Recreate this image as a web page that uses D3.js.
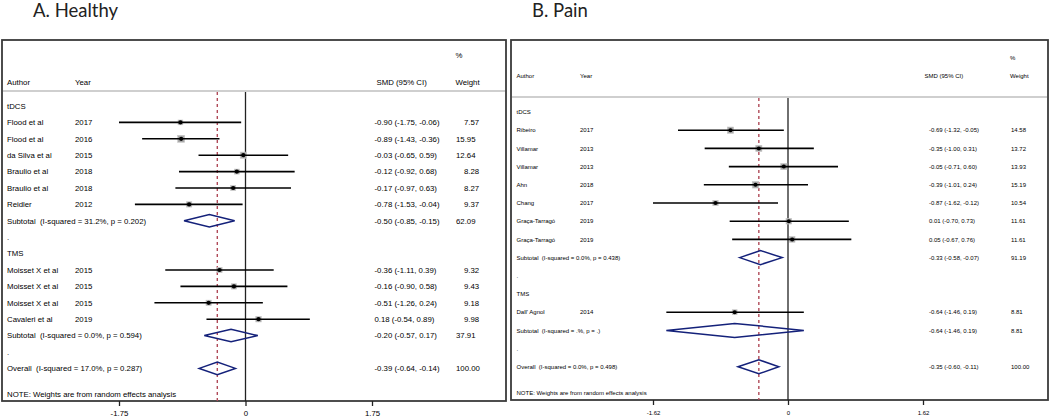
<!DOCTYPE html>
<html>
<head>
<meta charset="utf-8">
<script src="https://cdn.jsdelivr.net/npm/d3@7"></script>
<style>
  body { margin: 0; background: #fff; }
  svg { display: block; }
  text { font-family: "Liberation Sans", Arial, sans-serif; fill: #000; white-space: pre; }
  .title { font-family: Lato, "Open Sans", sans-serif; font-size: 18.5px; fill: #222; }
</style>
</head>
<body>
<svg id="chart" width="1050" height="419"></svg>
<script>
// ---- A. Healthy ----
const healthyGroups = ['tDCS', 'TMS'];
const healthyAuthor = ['Flood et al', 'Flood et al', 'da Silva et al', 'Braulio et al', 'Braulio et al', 'Reidler',
  'Moisset X et al', 'Moisset X et al', 'Moisset X et al', 'Cavaleri et al'];
const healthyYear = [2017, 2016, 2015, 2018, 2018, 2012, 2015, 2015, 2015, 2019];
const healthyGroup = [0, 0, 0, 0, 0, 0, 1, 1, 1, 1];
const healthyEst = [-0.90, -0.89, -0.03, -0.12, -0.17, -0.78, -0.36, -0.16, -0.51, 0.18];
const healthyLo = [-1.75, -1.43, -0.65, -0.92, -0.97, -1.53, -1.11, -0.90, -1.26, -0.54];
const healthyHi = [-0.06, -0.36, 0.59, 0.68, 0.63, -0.04, 0.39, 0.58, 0.24, 0.89];
const healthyWeight = [7.57, 15.95, 12.64, 8.28, 8.27, 9.37, 9.32, 9.43, 9.18, 9.98];
const healthySubLabel = ['Subtotal  (I-squared = 31.2%, p = 0.202)', 'Subtotal  (I-squared = 0.0%, p = 0.594)'];
const healthySubEst = [-0.50, -0.20];
const healthySubLo = [-0.85, -0.57];
const healthySubHi = [-0.15, 0.17];
const healthySubWeight = [62.09, 37.91];
const healthyOverall = { label: 'Overall  (I-squared = 17.0%, p = 0.287)', est: -0.39, lo: -0.64, hi: -0.14, w: 100.00 };
const healthyTicks = [-1.75, 0, 1.75];

// ---- B. Pain ----
const painGroups = ['tDCS', 'TMS'];
const painAuthor = ['Ribeiro', 'Villamar', 'Villamar', 'Ahn', 'Chang', 'Graça-Tarragó', 'Graça-Tarragó', "Dall' Agnol"];
const painYear = [2017, 2013, 2013, 2018, 2017, 2019, 2019, 2014];
const painGroup = [0, 0, 0, 0, 0, 0, 0, 1];
const painEst = [-0.69, -0.35, -0.05, -0.39, -0.87, 0.01, 0.05, -0.64];
const painLo = [-1.32, -1.00, -0.71, -1.01, -1.62, -0.70, -0.67, -1.46];
const painHi = [-0.05, 0.31, 0.60, 0.24, -0.12, 0.73, 0.76, 0.19];
const painWeight = [14.58, 13.72, 13.93, 15.19, 10.54, 11.61, 11.61, 8.81];
const painSubLabel = ['Subtotal  (I-squared = 0.0%, p = 0.438)', 'Subtotal  (I-squared = .%, p = .)'];
const painSubEst = [-0.33, -0.64];
const painSubLo = [-0.58, -1.46];
const painSubHi = [-0.07, 0.19];
const painSubWeight = [91.19, 8.81];
const painOverall = { label: 'Overall  (I-squared = 0.0%, p = 0.498)', est: -0.35, lo: -0.60, hi: -0.11, w: 100.00 };
const painTicks = [-1.62, 0, 1.62];

const svg = d3.select('#chart');
// plain hyphen minus, as in the Stata output
const f2 = d3.formatLocale({ decimal: '.', thousands: ',', grouping: [3], currency: ['', ''], minus: '-' }).format('.2f');

function buildRows(groups, author, year, group, est, lo, hi, weight, subLabel, subEst, subLo, subHi, subW, overall) {
  const rows = [];
  groups.forEach((g, gi) => {
    rows.push({ type: 'group', label: g });
    author.forEach((a, i) => {
      if (group[i] !== gi) return;
      rows.push({ type: 'study', label: a, year: year[i], est: est[i], lo: lo[i], hi: hi[i], w: weight[i] });
    });
    rows.push({ type: 'sub', label: subLabel[gi], est: subEst[gi], lo: subLo[gi], hi: subHi[gi], w: subW[gi] });
    rows.push({ type: 'blank', label: '.' });
  });
  rows.push(Object.assign({ type: 'sub' }, overall));
  return rows;
}

function drawPanel(cfg, rows, ticks, overallEst) {
  const g = svg.append('g');
  const x = d3.scaleLinear().domain([ticks[0], ticks[2]]).range(cfg.tickRange);
  const y = i => cfg.row0 + i * cfg.rowStep;
  const fs = cfg.fontSize;
  const base = fs * 0.35;

  g.append('text').attr('class', 'title')
    .attr('x', cfg.titleX).attr('y', 17).text(cfg.title);

  // frame
  g.append('rect')
    .attr('x', cfg.left).attr('y', cfg.top)
    .attr('width', cfg.right - cfg.left).attr('height', cfg.bottom - cfg.top)
    .attr('fill', 'none').attr('stroke', '#3a3a3a').attr('stroke-width', 1.8);

  g.append('line')
    .attr('x1', cfg.left + 1).attr('x2', cfg.right - 1)
    .attr('y1', cfg.sepY).attr('y2', cfg.sepY)
    .attr('stroke', '#cfcfcf').attr('stroke-width', 2);

  // header
  const hdr = g.append('g').style('font-size', fs + 'px');
  hdr.append('text').attr('x', cfg.colAuthor).attr('y', cfg.headY + base).text('Author');
  hdr.append('text').attr('x', cfg.colYear).attr('y', cfg.headY + base).text('Year');
  hdr.append('text').attr('x', cfg.colSmdHead).attr('y', cfg.headY + base).text('SMD (95% CI)');
  hdr.append('text').attr('x', cfg.colWeightHead).attr('y', cfg.headY + base).text('Weight');
  hdr.append('text').attr('x', cfg.colWeightHead).attr('y', cfg.pctY + base).text('%');

  // null line
  g.append('line')
    .attr('x1', x(0)).attr('x2', x(0))
    .attr('y1', cfg.sepY + 1).attr('y2', cfg.bottom)
    .attr('stroke', '#222').attr('stroke-width', 1.3);

  // overall effect line
  g.append('line')
    .attr('x1', x(overallEst)).attr('x2', x(overallEst))
    .attr('y1', cfg.sepY + 1).attr('y2', cfg.bottom)
    .attr('stroke', '#b04a58').attr('stroke-width', 1.4)
    .attr('stroke-dasharray', '3,3');

  const body = g.append('g').style('font-size', fs + 'px');
  const maxW = d3.max(rows.filter(r => r.type === 'study'), r => r.w);

  rows.forEach((r, i) => {
    const yy = y(i);
    body.append('text').attr('x', cfg.colAuthor).attr('y', yy + base).text(r.label);
    if (r.type === 'study') {
      body.append('text').attr('x', cfg.colYear).attr('y', yy + base).text(r.year);
      const s = cfg.boxMax * Math.sqrt(r.w / maxW);
      body.append('rect')
        .attr('x', x(r.est) - s / 2).attr('y', yy - s / 2)
        .attr('width', s).attr('height', s)
        .attr('fill', '#a9a9a9').attr('stroke', '#c8c8c8').attr('stroke-width', 0.6);
      body.append('line')
        .attr('x1', x(r.lo)).attr('x2', x(r.hi))
        .attr('y1', yy).attr('y2', yy)
        .attr('stroke', '#000').attr('stroke-width', 1.6);
      body.append('circle')
        .attr('cx', x(r.est)).attr('cy', yy).attr('r', cfg.dotR)
        .attr('fill', '#000');
    }
    if (r.type === 'sub') {
      const h = cfg.diamondH / 2;
      body.append('path')
        .attr('d', `M${x(r.lo)},${yy}L${x(r.est)},${yy - h}L${x(r.hi)},${yy}L${x(r.est)},${yy + h}Z`)
        .attr('fill', 'none').attr('stroke', '#14217a').attr('stroke-width', 1.5);
    }
    if (r.type === 'study' || r.type === 'sub') {
      body.append('text').attr('x', cfg.colSmd).attr('y', yy + base)
        .text(`${f2(r.est)} (${f2(r.lo)}, ${f2(r.hi)})`);
      const wt = body.append('text').attr('y', yy + base).text(f2(r.w));
      wt.attr('x', cfg.padWeights && r.w < 10 ? cfg.colWeight + cfg.padShift : cfg.colWeight);
    }
  });

  body.append('text').attr('x', cfg.colAuthor).attr('y', cfg.noteY + base)
    .text('NOTE: Weights are from random effects analysis');

  // axis
  const axis = d3.axisBottom(x).tickValues(ticks).tickSize(5).tickSizeOuter(0)
    .tickFormat(d => d === 0 ? '0' : f2(d));
  const ax = g.append('g').attr('transform', `translate(0,${cfg.bottom})`).call(axis);
  ax.select('.domain').remove();
  ax.selectAll('.tick line').attr('stroke', '#222').attr('stroke-width', 1.3);
  ax.selectAll('.tick text')
    .attr('y', cfg.tickLabelY - cfg.bottom).attr('dy', '0.35em')
    .style('font-family', '"Liberation Sans", Arial, sans-serif')
    .style('font-size', fs + 'px').attr('fill', '#000');
}

const healthyRows = buildRows(healthyGroups, healthyAuthor, healthyYear, healthyGroup, healthyEst, healthyLo,
  healthyHi, healthyWeight, healthySubLabel, healthySubEst, healthySubLo, healthySubHi, healthySubWeight, healthyOverall);
const painRows = buildRows(painGroups, painAuthor, painYear, painGroup, painEst, painLo, painHi, painWeight,
  painSubLabel, painSubEst, painSubLo, painSubHi, painSubWeight, painOverall);

drawPanel({
  title: 'A. Healthy', titleX: 33,
  left: 2, right: 506, top: 40, bottom: 401, sepY: 91,
  tickRange: [119, 372], tickLabelY: 413.5,
  row0: 106, rowStep: 16.4, headY: 82, pctY: 55, noteY: 394,
  fontSize: 7.8,
  colAuthor: 7, colYear: 75, colSmd: 374.5, colSmdHead: 376.5, colWeight: 456, colWeightHead: 455.5,
  padWeights: true, padShift: 8,
  boxMax: 7, dotR: 2.1, diamondH: 12.5
}, healthyRows, healthyTicks, healthyOverall.est);

drawPanel({
  title: 'B. Pain', titleX: 532,
  left: 511, right: 1048, top: 40, bottom: 400, sepY: 97,
  tickRange: [653, 923], tickLabelY: 413,
  row0: 112, rowStep: 18.2, headY: 76, pctY: 58, noteY: 393,
  fontSize: 6,
  colAuthor: 516.5, colYear: 580, colSmd: 929, colSmdHead: 924.5, colWeight: 1011, colWeightHead: 1010,
  padWeights: false, padShift: 0,
  boxMax: 6.5, dotR: 2, diamondH: 14
}, painRows, painTicks, painOverall.est);
</script>
</body>
</html>
